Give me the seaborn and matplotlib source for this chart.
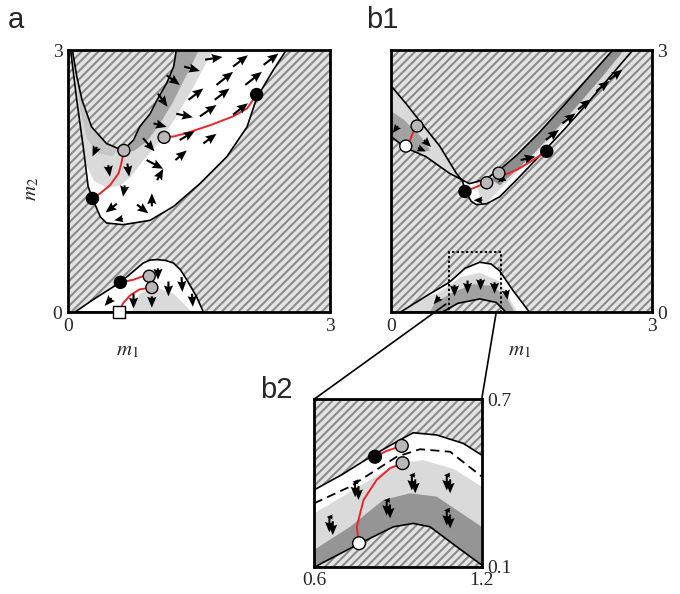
import numpy as np
import seaborn as sns
import matplotlib.pyplot as plt
from matplotlib.patches import Polygon, Rectangle, ConnectionPatch

sns.set_theme(style='white')
plt.rcParams['font.family'] = ['Liberation Serif', 'DejaVu Serif']
plt.rcParams['mathtext.fontset'] = 'stix'
plt.rcParams['hatch.linewidth'] = 1.5

HATCH = '#8c8c8c'
HATCH_BG = '#e4e4e4'
LIGHT = '#dadada'
MIDL = '#c6c6c6'
DARK = '#a2a2a2'
RED = '#e8262c'
PT_COL = {'stable': 'black', 'saddle': '#b8b8b8', 'unstable': 'white'}

# ---------------- panel a ----------------
a_outer_x = [0.03, 0.10, 0.18, 0.23, 0.28, 0.37, 0.44, 0.63, 0.94, 1.21, 1.51, 1.82, 2.05, 2.16, 2.35, 2.50]
a_outer_y = [3.00, 2.43, 1.85, 1.44, 1.30, 1.09, 1.02, 1.00, 1.05, 1.21, 1.47, 1.78, 2.12, 2.45, 2.77, 3.00]
a_inner_x = [0.05, 0.10, 0.16, 0.27, 0.44, 0.58, 0.64, 0.75, 0.82, 0.94, 1.02, 1.13, 1.21, 1.24]
a_inner_y = [3.00, 2.70, 2.43, 2.12, 1.93, 1.87, 1.86, 1.97, 2.12, 2.27, 2.43, 2.62, 2.81, 3.00]
a_light_x = [0.0, 1.24, 1.66, 1.45, 1.25, 1.05, 0.85, 0.72, 0.60, 0.45, 0.30, 0.20, 0.0]
a_light_y = [3.0, 3.00, 3.00, 2.60, 2.25, 1.95, 1.72, 1.55, 1.45, 1.42, 1.50, 1.70, 2.0]
a_midl_x = [0.05, 0.10, 0.16, 0.27, 0.44, 0.58, 0.50, 0.35, 0.22, 0.14, 0.08]
a_midl_y = [3.00, 2.70, 2.43, 2.12, 1.93, 1.87, 1.78, 1.82, 1.98, 2.30, 2.90]
a_dark_x = [0.64, 0.75, 0.82, 0.94, 1.02, 1.13, 1.21, 1.24, 1.50, 1.35, 1.20, 1.05, 0.90, 0.75]
a_dark_y = [1.86, 1.97, 2.12, 2.27, 2.43, 2.62, 2.81, 3.00, 3.00, 2.70, 2.40, 2.15, 1.95, 1.84]
a_low_x = [0.08, 0.30, 0.60, 0.86, 0.94, 1.02, 1.12, 1.21, 1.29, 1.36, 1.47, 1.55]
a_low_y = [0.00, 0.15, 0.34, 0.56, 0.595, 0.60, 0.59, 0.56, 0.48, 0.37, 0.18, 0.00]
a_lowlight_x = [0.73, 0.82, 0.98, 1.21, 1.42]
a_lowlight_y = [0.00, 0.21, 0.29, 0.21, 0.00]

a_traj = [
    ([0.64, 0.61, 0.58, 0.48, 0.37, 0.28], [1.85, 1.70, 1.59, 1.45, 1.36, 1.30]),
    ([1.10, 1.21, 1.36, 1.63, 1.89, 2.05, 2.16], [2.00, 2.01, 2.05, 2.14, 2.24, 2.33, 2.49]),
    ([0.60, 0.75, 0.86, 0.93], [0.34, 0.37, 0.41, 0.41]),
    ([0.58, 0.63, 0.71, 0.82, 0.96], [0.00, 0.10, 0.19, 0.26, 0.28]),
]
a_pts_x = [0.28, 2.16, 0.60, 0.64, 1.10, 0.93, 0.96]
a_pts_y = [1.30, 2.49, 0.34, 1.85, 2.00, 0.41, 0.28]
a_pts_kind = ['stable', 'stable', 'stable', 'saddle', 'saddle', 'saddle', 'saddle']

a_arr_x = [1.57, 1.89, 2.24, 1.33, 1.13, 1.70, 2.03, 1.03, 1.38, 1.68, 1.24, 0.98, 1.51, 1.89,
           0.86, 1.28, 1.55, 0.33, 0.46, 0.68, 0.90, 1.23, 0.65, 1.02, 0.56, 0.96, 0.79, 0.63,
           0.75, 0.96, 1.15, 1.30, 1.42, 0.50, 1.03]
a_arr_y = [2.89, 2.81, 2.83, 2.81, 2.71, 2.60, 2.60, 2.50, 2.43, 2.43, 2.27, 2.16, 2.24, 2.26,
           1.99, 1.97, 1.93, 1.89, 1.68, 1.70, 1.74, 1.74, 1.45, 1.51, 1.24, 1.21, 1.23, 1.07,
           0.21, 0.18, 0.35, 0.40, 0.21, 0.16, 0.50]
a_arr_u = [0.20, 0.17, 0.17, 0.18, 0.15, 0.19, 0.19, 0.11, 0.17, 0.17, 0.19, 0.15, 0.19, 0.17,
           0.13, 0.17, 0.15, -0.05, 0.02, 0.02, 0.19, 0.13, -0.02, 0.07, -0.13, 0.00, 0.13, -0.10,
           0.00, 0.00, 0.00, 0.01, 0.01, -0.08, 0.00]
a_arr_v = [0.03, 0.13, 0.13, -0.05, -0.11, 0.15, 0.15, -0.15, 0.13, 0.13, -0.04, -0.04, 0.13, 0.13,
           -0.15, 0.10, 0.11, -0.11, -0.13, -0.15, -0.10, 0.11, -0.13, 0.13, -0.10, 0.15, -0.10, -0.02,
           -0.17, -0.13, -0.17, -0.17, -0.15, -0.09, -0.13]

# ---------------- panel b1 ----------------
b1_up_x = [0.00, 0.17, 0.36, 0.56, 0.75, 0.82, 0.86, 0.92, 0.98, 1.10, 1.25, 1.44, 1.70, 2.00, 2.30, 2.60, 2.78,
           2.55, 2.30, 2.00, 1.70, 1.45, 1.25, 1.10, 0.98, 0.90, 0.67, 0.40, 0.17, 0.00]
b1_up_y = [2.59, 2.39, 2.15, 1.90, 1.59, 1.50, 1.38, 1.27, 1.23, 1.24, 1.32, 1.51, 1.78, 2.10, 2.44, 2.79, 3.00,
           3.00, 2.72, 2.38, 2.05, 1.80, 1.63, 1.53, 1.49, 1.47, 1.59, 1.78, 1.88, 2.01]
b1_leftlight_x = [0.0, 0.85, 0.80, 0.0]
b1_leftlight_y = [2.8, 1.55, 1.40, 1.80]
b1_leftdark_x = [0.0, 0.15, 0.35, 0.45, 0.30, 0.10, 0.0]
b1_leftdark_y = [2.30, 2.20, 2.00, 1.85, 1.82, 1.95, 2.00]
b1_rightlight_x = [1.05, 3.00, 3.00, 2.40, 0.95]
b1_rightlight_y = [1.20, 3.15, 3.10, 3.10, 1.60]
b1_stripe_x = [1.15, 1.50, 1.90, 2.30, 2.50, 2.68, 2.40, 2.00, 1.60, 1.25]
b1_stripe_y = [1.52, 1.86, 2.30, 2.76, 3.00, 3.00, 2.66, 2.20, 1.77, 1.45]
b1_low_x = [0.11, 0.40, 0.67, 0.85, 1.02, 1.15, 1.25, 1.40, 1.59, 1.32, 1.21, 1.02, 0.77, 0.59]
b1_low_y = [0.00, 0.18, 0.34, 0.50, 0.57, 0.55, 0.47, 0.25, 0.00, 0.00, 0.11, 0.15, 0.10, 0.00]
b1_lowlight_x = [0.0, 1.45, 1.25, 1.02, 0.80, 0.55, 0.0]
b1_lowlight_y = [0.0, 0.0, 0.35, 0.45, 0.40, 0.22, 0.05]
b1_lowdark_x = [0.45, 0.50, 0.70, 0.95, 1.15, 1.32, 1.42, 1.32, 1.21, 1.02, 0.77, 0.59]
b1_lowdark_y = [0.00, 0.10, 0.22, 0.32, 0.30, 0.18, 0.00, 0.00, 0.11, 0.15, 0.10, 0.00]

b1_traj = [
    ([0.17, 0.22, 0.25, 0.30], [1.90, 1.97, 2.05, 2.13]),
    ([0.85, 0.95, 1.05, 1.10], [1.38, 1.42, 1.46, 1.48]),
    ([1.28, 1.45, 1.60, 1.79], [1.56, 1.63, 1.72, 1.84]),
]
b1_pts_x = [0.85, 1.79, 1.10, 1.24, 0.30, 0.17]
b1_pts_y = [1.38, 1.84, 1.48, 1.59, 2.13, 1.90]
b1_pts_kind = ['stable', 'stable', 'saddle', 'saddle', 'saddle', 'unstable']

b1_arr_x = [1.78, 1.97, 2.15, 2.36, 2.51, 1.49, 1.28, 1.05, 0.08, 0.38, 0.31,
            0.73, 0.88, 1.03, 1.19, 1.32, 0.56]
b1_arr_y = [1.97, 2.16, 2.32, 2.53, 2.66, 1.74, 1.49, 1.28, 2.13, 1.97, 1.88,
            0.31, 0.36, 0.38, 0.34, 0.25, 0.17]
b1_arr_u = [0.15, 0.15, 0.15, 0.15, 0.15, 0.17, -0.02, -0.10, -0.06, 0.08, 0.09,
            0.00, 0.00, 0.00, 0.00, 0.02, -0.07]
b1_arr_v = [0.115, 0.115, 0.115, 0.115, 0.115, 0.04, 0.11, 0.00, -0.08, -0.08, -0.04,
            -0.13, -0.15, -0.13, -0.13, -0.11, -0.08]
b1_box = (0.67, 0.0, 0.59, 0.69)

# ---------------- panel b2 ----------------
b2_reg_x = [0.55, 0.60, 0.70, 0.812, 0.896, 0.955, 1.039, 1.134, 1.20, 1.25,
            1.25, 1.20, 1.11, 1.015, 0.955, 0.884, 0.765, 0.627, 0.55]
b2_reg_y = [0.345, 0.375, 0.43, 0.50, 0.548, 0.58, 0.572, 0.542, 0.50, 0.46,
            0.06, 0.106, 0.172, 0.243, 0.255, 0.243, 0.184, 0.112, 0.07]
b2_light_x = [0.55, 0.60, 0.75, 0.896, 0.991, 1.10, 1.20, 1.25, 1.25, 0.55]
b2_light_y = [0.26, 0.291, 0.38, 0.47, 0.482, 0.45, 0.387, 0.35, 0.0, 0.0]
b2_dark_x = [0.55, 0.60, 0.729, 0.848, 0.943, 1.039, 1.20, 1.25, 1.25, 0.55]
b2_dark_y = [0.13, 0.16, 0.243, 0.339, 0.363, 0.351, 0.243, 0.20, 0.0, 0.0]
b2_dash_x = [0.60, 0.729, 0.896, 0.979, 1.087, 1.20]
b2_dash_y = [0.327, 0.387, 0.494, 0.521, 0.512, 0.423]
b2_traj = [
    ([0.818, 0.86, 0.914], [0.494, 0.515, 0.533]),
    ([0.761, 0.753, 0.777, 0.824, 0.872, 0.917], [0.184, 0.243, 0.339, 0.411, 0.453, 0.471]),
]
b2_pts_x = [0.818, 0.914, 0.917, 0.761]
b2_pts_y = [0.494, 0.533, 0.471, 0.184]
b2_pts_kind = ['stable', 'saddle', 'saddle', 'unstable']
b2_cl_x = [0.747, 0.655, 0.860, 0.950, 1.075, 1.075]
b2_cl_y = [0.369, 0.243, 0.303, 0.393, 0.393, 0.267]


def hatched(ax):
    ax.add_patch(Rectangle((0, 0), 1, 1, transform=ax.transAxes, facecolor=HATCH_BG,
                           edgecolor=HATCH, hatch='////', lw=0, zorder=0))


def region(ax, xs, ys, shades=()):
    pts = np.column_stack([xs, ys])
    poly = Polygon(pts, closed=True, facecolor='white', lw=0, zorder=1)
    ax.add_patch(poly)
    for sx, sy, c in shades:
        sp = Polygon(np.column_stack([sx, sy]), closed=True, facecolor=c, lw=0, zorder=1.5)
        ax.add_patch(sp)
        sp.set_clip_path(poly)
    ax.add_patch(Polygon(pts, closed=True, fill=False, edgecolor='black', lw=1.2, zorder=2))


def marks(ax, trajs, px, py, kinds, size=75):
    for tx, ty in trajs:
        sns.lineplot(x=tx, y=ty, sort=False, estimator=None, color=RED, lw=1.4, ax=ax, zorder=3)
    sns.scatterplot(x=px, y=py, hue=kinds, palette=PT_COL, edgecolor='black', linewidth=1.0,
                    s=size, legend=False, ax=ax, zorder=5, clip_on=False)


def arrows(ax, x, y, u, v, w=0.008):
    ax.quiver(x, y, u, v, angles='xy', scale_units='xy', scale=1, width=w, headwidth=4.4,
              headlength=5.2, headaxislength=4.6, color='black', zorder=4)


def frame(ax, lim_x, lim_y, ticks_x, ticks_y, right=False):
    ax.set_xlim(*lim_x)
    ax.set_ylim(*lim_y)
    ax.set_xticks(ticks_x, [f'{t:g}' for t in ticks_x])
    ax.set_yticks(ticks_y, [f'{t:g}' for t in ticks_y])
    if right:
        ax.yaxis.tick_right()
    ax.tick_params(length=0, labelsize=14, pad=4)
    ax.grid(False)
    for s in ax.spines.values():
        s.set_visible(True)
        s.set_color('black')
        s.set_linewidth(2.0)
        s.set_zorder(6)


fig = plt.figure(figsize=(6.8, 5.94), dpi=100)
ax_a = fig.add_axes([0.100, 0.4747, 0.3853, 0.4411])
ax_b1 = fig.add_axes([0.575, 0.4747, 0.3838, 0.4411])
ax_b2 = fig.add_axes([0.4618, 0.046, 0.2466, 0.2818])

# panel a
hatched(ax_a)
region(ax_a, a_outer_x + a_inner_x[::-1], a_outer_y + a_inner_y[::-1],
       [(a_light_x, a_light_y, LIGHT), (a_midl_x, a_midl_y, MIDL), (a_dark_x, a_dark_y, DARK)])
region(ax_a, a_low_x, a_low_y, [(a_lowlight_x, a_lowlight_y, LIGHT)])
arrows(ax_a, a_arr_x, a_arr_y, a_arr_u, a_arr_v)
marks(ax_a, a_traj, a_pts_x, a_pts_y, a_pts_kind)
ax_a.scatter([0.58], [0.0], marker='s', s=65, facecolor='white', edgecolor='black',
             linewidth=1.0, zorder=7, clip_on=False)
frame(ax_a, (0, 3), (0, 3), [0, 3], [0, 3])
ax_a.set_xlabel(r'$m_1$', fontsize=15)
ax_a.set_ylabel(r'$m_2$', fontsize=15)
ax_a.xaxis.set_label_coords(0.225, -0.11)
ax_a.yaxis.set_label_coords(-0.10, 0.47)

# panel b1
hatched(ax_b1)
region(ax_b1, b1_up_x, b1_up_y,
       [(b1_leftlight_x, b1_leftlight_y, LIGHT), (b1_leftdark_x, b1_leftdark_y, DARK),
        (b1_rightlight_x, b1_rightlight_y, LIGHT), (b1_stripe_x, b1_stripe_y, '#8e8e8e')])
region(ax_b1, b1_low_x, b1_low_y,
       [(b1_lowlight_x, b1_lowlight_y, LIGHT), (b1_lowdark_x, b1_lowdark_y, DARK)])
arrows(ax_b1, b1_arr_x, b1_arr_y, b1_arr_u, b1_arr_v)
marks(ax_b1, b1_traj, b1_pts_x, b1_pts_y, b1_pts_kind)
ax_b1.add_patch(Rectangle(b1_box[:2], b1_box[2], b1_box[3], fill=False, edgecolor='black',
                          lw=1.4, ls=(0, (1.2, 1.2)), zorder=6))
frame(ax_b1, (0, 3), (0, 3), [0, 3], [0, 3], right=True)
ax_b1.set_xlabel(r'$m_1$', fontsize=15)
ax_b1.xaxis.set_label_coords(0.494, -0.11)

# panel b2
hatched(ax_b2)
region(ax_b2, b2_reg_x, b2_reg_y,
       [(b2_light_x, b2_light_y, LIGHT), (b2_dark_x, b2_dark_y, '#959595')])
ax_b2.plot(b2_dash_x, b2_dash_y, color='black', lw=1.3, ls=(0, (5, 3)), zorder=3)
for cx, cy in zip(b2_cl_x, b2_cl_y):
    arrows(ax_b2, [cx + 0.012, cx, cx + 0.012], [cy + 0.035, cy + 0.035, cy + 0.02],
           [-0.022, 0.0, 0.0], [0.0, -0.055, -0.05], w=0.012)
marks(ax_b2, b2_traj, b2_pts_x, b2_pts_y, b2_pts_kind, size=85)
frame(ax_b2, (0.6, 1.2), (0.1, 0.7), [0.6, 1.2], [0.1, 0.7], right=True)

# zoom connectors
for pa, pb in [((0.6, 0.7), (0.63, 0.09)), ((1.2, 0.7), (1.21, 0.0))]:
    con = ConnectionPatch(xyA=pa, coordsA=ax_b2.transData, xyB=pb, coordsB=ax_b1.transData,
                          color='black', lw=1.2, zorder=8)
    fig.add_artist(con)

for txt, x, y in [('a', 0.012, 0.953), ('b1', 0.538, 0.953), ('b2', 0.383, 0.330)]:
    fig.text(x, y, txt, fontsize=21, family=['Liberation Sans', 'DejaVu Sans'], va='baseline')

fig.savefig('out.png', dpi=100)
